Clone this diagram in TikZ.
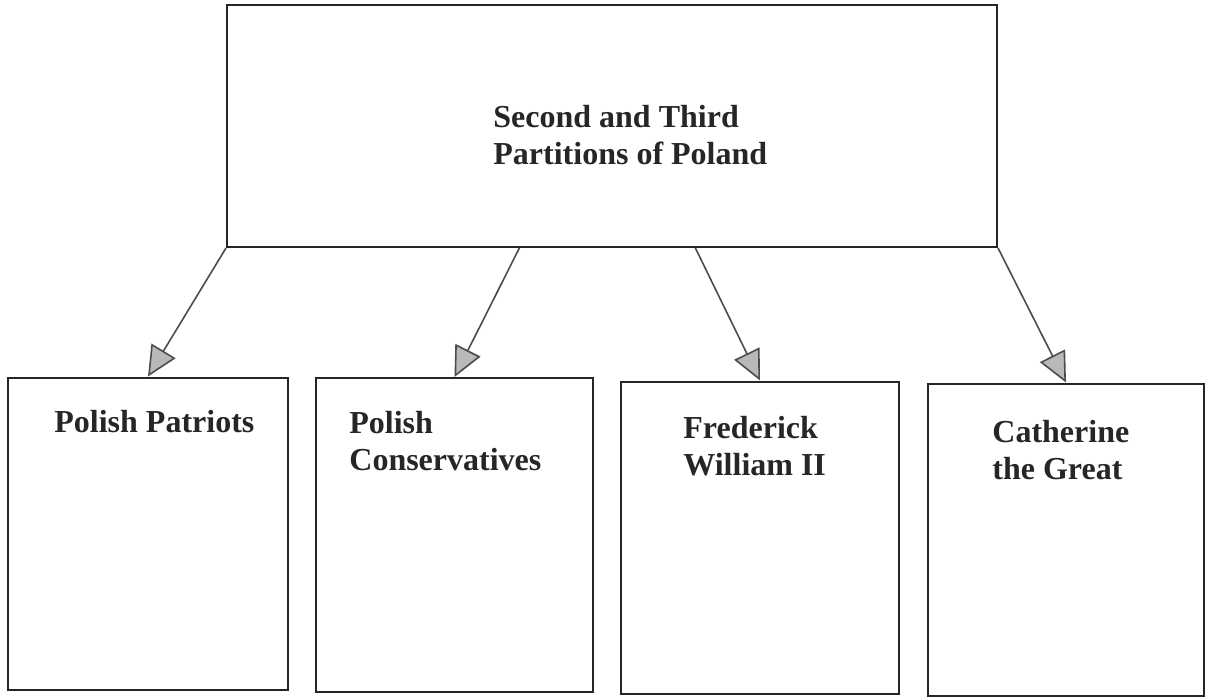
\documentclass[tikz,border=0pt]{standalone}
\usepackage{fontspec}
\setmainfont{Liberation Serif}
\usetikzlibrary{arrows.meta,calc}

\tikzset{
  box/.style={draw=black!85, line width=1pt, minimum width=139pt, minimum height=156pt, inner sep=0pt},
  lbl/.style={anchor=west, align=left, inner sep=0pt, font=\fontsize{16}{18.5}\selectfont\bfseries, text=black!85},
  link/.style={draw=black!70, line width=0.8pt, -{Triangle[length=15pt,width=14pt,fill=gray!55]}}
}

\begin{document}
\begin{tikzpicture}[x=0.5pt,y=-0.5pt]
\useasboundingbox (0,0) rectangle (1207,698);

% Top box
\node[box, minimum width=385pt, minimum height=121pt] (partitions) at (612,126) {};
\node[lbl] (partitionsText) at (493,135) {Second and Third\\Partitions of Poland};

% Lower boxes
\node[box, minimum width=140pt] (patriots) at (148,533.5) {};
\node[box, minimum width=138.5pt, minimum height=157pt] (conservatives) at (454.5,535) {};
\node[box] (frederick) at (760,537.5) {};
\node[box, minimum width=138pt] (catherine) at (1066,539.5) {};

% Labels of the lower boxes
\node[lbl] (patriotsText) at (54,422) {Polish Patriots};
\node[lbl] (conservativesText) at (349,441.5) {Polish\\Conservatives};
\node[lbl] (frederickText) at (683,446.5) {Frederick\\William II};
\node[lbl] (catherineText) at (992,450) {Catherine\\the Great};

% Points on the lower edge of the top box
\coordinate (out2) at ($(partitions.south west)!0.38!(partitions.south east)$);
\coordinate (out3) at ($(partitions.south west)!0.608!(partitions.south east)$);

% Arrows
\draw[link] (partitions.south west) -- (patriots.north);
\draw[link] (out2) -- (conservatives.north);
\draw[link] (out3) -- (frederick.north);
\draw[link] (partitions.south east) -- (catherine.north);

\end{tikzpicture}
\end{document}
